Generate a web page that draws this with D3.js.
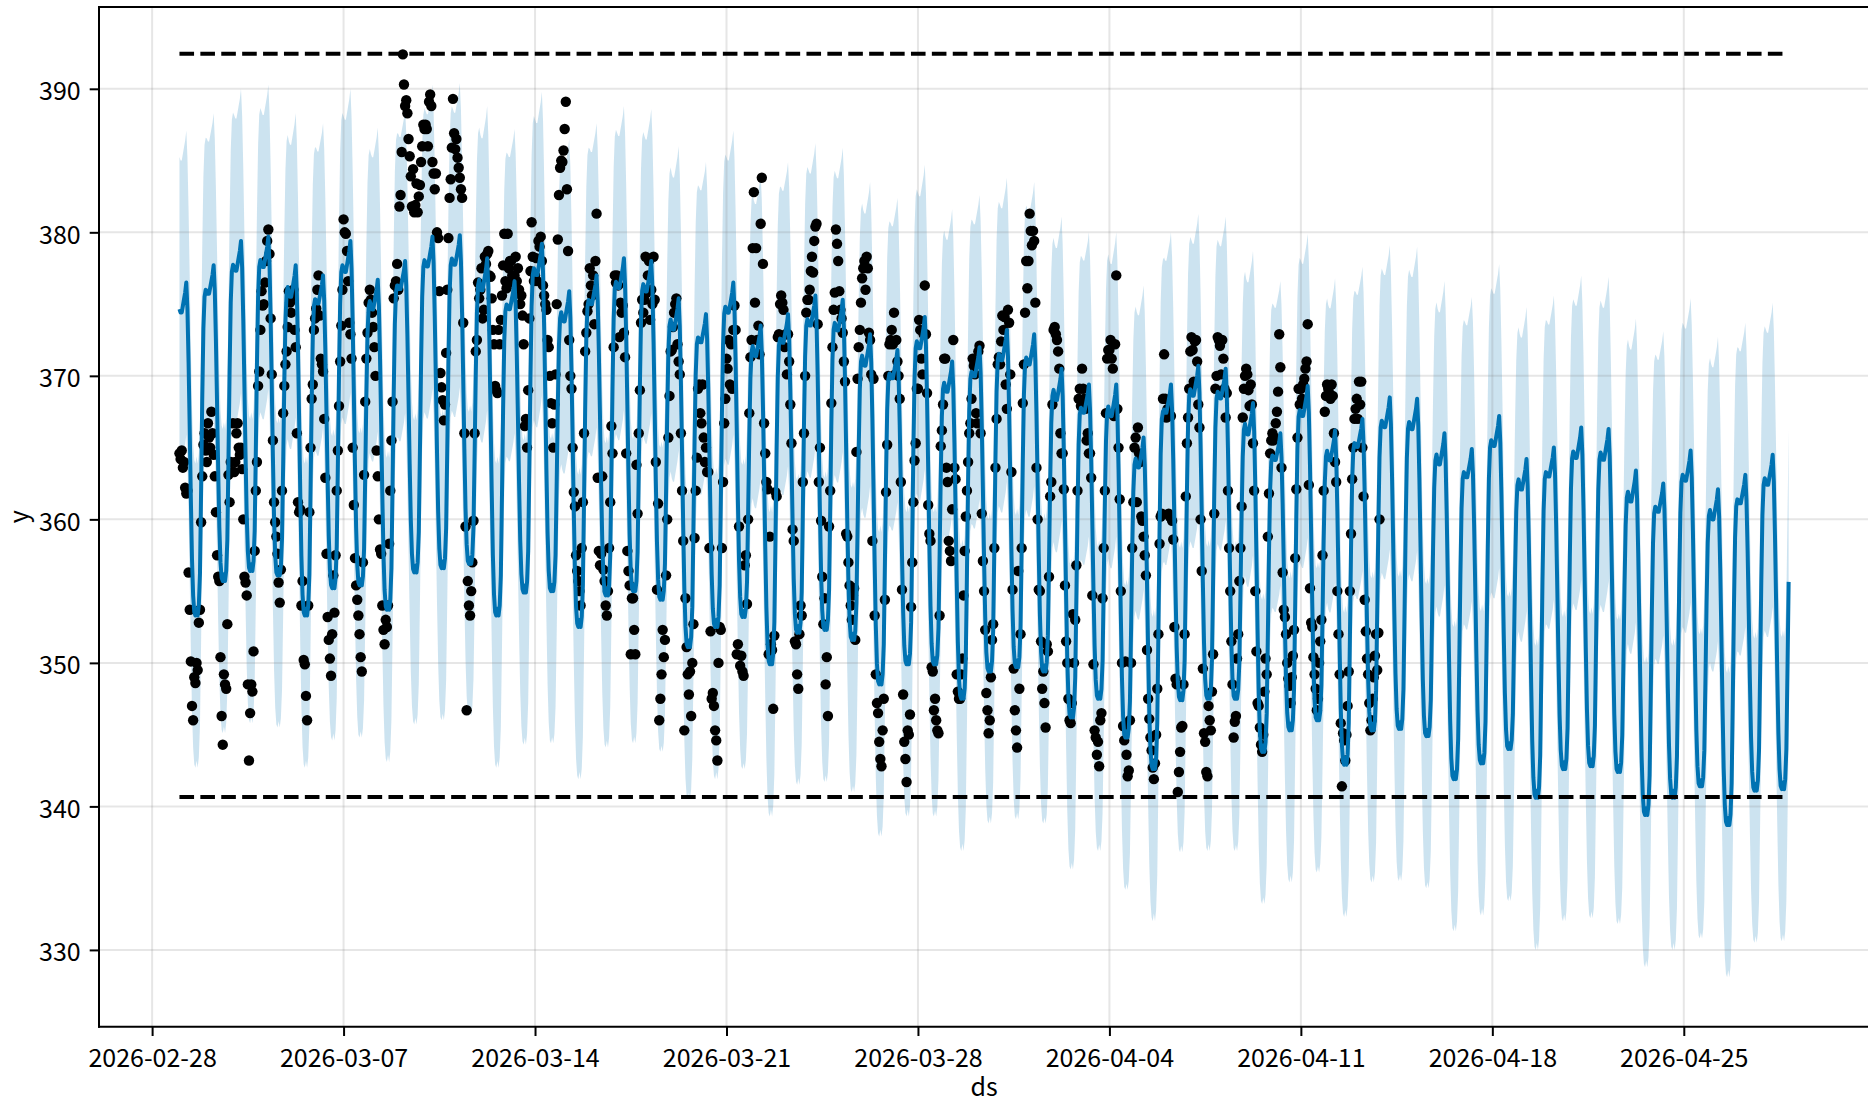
<!DOCTYPE html>
<html><head><meta charset="utf-8">
<script src="https://cdn.jsdelivr.net/npm/d3@7"></script>
<style>
body{margin:0;background:#fff;}
svg{display:block;}
text{font-family:"Noto Sans CJK JP","Noto Sans",sans-serif;fill:#000;}
</style>
</head><body><script>
// ---------- data ----------
const startISO = "2026-03-01T00:00:00Z";   // first hourly row
const forecastHours = 1413;                 // hourly rows in the forecast frame
// daily shape of yhat, 0 = daily trough, 1 = daily peak (hours 0..23)
const hourProfile = [0.92,0.91,0.91,0.93,0.95,0.97,1.00,0.92,0.76,0.56,0.35,0.17,0.06,0.01,0.00,0.02,0.00,0.03,0.12,0.36,0.62,0.82,0.91,0.93];
// daily peak of yhat (about 06:00) for each day from 2026-03-01
const dailyPeak = [376.5,377.7,379.4,379.7,377.7,377.0,379.4,376.7,378.0,379.7,379.8,378.2,376.6,379.2,375.9,377.0,378.2,378.0,375.4,374.3,376.5,373.5,374.3,375.6,375.3,372.9,371.8,374.1,371.0,372.0,373.2,372.9,370.5,369.4,369.4,365.7,369.4,370.7,370.5,368.1,366.0,369.3,366.2,367.0,368.5,368.4,366.0,364.9,367.2,364.2,365.0,366.4,366.3,363.4,362.5,364.8,362.1,363.1,364.5];
// daily trough of yhat (about 14:00) for each day
const dailyTrough = [353.3,355.7,356.4,356.1,353.3,355.2,355.4,353.7,356.3,356.6,356.9,353.3,354.9,355.0,352.5,354.7,355.0,354.4,351.1,352.5,353.2,349.9,352.1,352.3,351.6,348.5,349.9,349.9,347.5,349.4,349.7,349.4,346.2,347.5,344.8,342.6,347.4,347.5,347.5,343.8,345.3,346.0,342.9,345.3,345.4,344.9,341.9,343.0,344.0,340.6,342.6,342.8,342.4,339.4,340.6,341.4,338.7,341.1,341.2];
const intervalHalfWidth = 10.6;             // yhat_upper - yhat  (= yhat - yhat_lower)
const capValue = 392.44;
const floorValue = 340.66;
// observed hourly values, one list per day from 2026-03-01
const observed = [
[364.6,364.2,364.8,363.6,364.0,362.2,361.8,362.0,356.3,353.7,350.1,347.0,346.0,349.0,348.6,350.0,349.5,352.8,353.7,359.8,363.0,365.2,366.0,364.8],
[364.0,366.7,365.7,365.0,367.5,366.0,364.5,363.0,360.5,357.5,356.0,355.7,350.4,346.3,344.3,349.2,348.5,348.2,352.7,363.1,361.2,364.0,363.3,366.7],
[363.3,364.0,366.0,366.7,365.0,364.5,365.0,363.5,360.0,356.0,355.6,354.7,348.5,343.2,346.5,348.5,348.0,350.8,357.8,362.0,364.0,369.3,370.3,373.2],
[375.9,374.9,375.0,376.5,378.0,379.4,380.2,378.5,374.0,370.1,365.5,361.2,359.8,358.8,357.6,355.6,354.2,356.5,362.0,367.4,369.3,370.8,371.7,373.4],
[375.9,375.1,374.4,375.5,376.0,373.2,372.0,366.0,361.2,360.5,360.7,354.0,355.7,350.2,349.9,347.7,346.0,354.0,360.5,365.0,368.4,369.4,373.2,374.0],
[374.7,376.0,377.0,374.2,371.2,370.8,370.3,367.0,362.9,357.6,353.2,351.6,350.3,349.1,352.0,356.1,353.5,357.5,362.0,364.8,367.9,371.0,373.5,376.0],
[380.9,380.0,379.9,378.7,376.6,373.7,372.9,371.2,365.0,361.0,357.3,355.4,354.4,353.3,352.0,350.4,349.4,357.0,363.1,368.2,371.2,373.0,375.1,376.0],
[375.3,374.4,373.4,372.0,370.0,364.8,363.0,360.0,357.9,357.6,354.0,352.3,351.3,353.0,352.5,354.0,358.3,362.0,365.5,368.2,375.4,376.3,376.6,377.8],
[376.0,381.8,382.6,385.6,392.4,390.3,388.8,389.2,388.3,386.5,385.3,383.9,381.8,384.4,381.4,381.9,383.4,381.4,382.5,383.3,384.9,386.0,387.5,387.2],
[387.5,387.2,386.0,389.1,389.6,388.8,384.9,384.1,383.0,384.1,380.0,379.6,375.9,370.2,369.2,368.3,366.9,368.0,371.6,376.0,379.6,382.4,383.7,385.9],
[389.3,386.9,385.8,386.5,385.2,384.5,383.8,383.0,382.4,373.7,366.0,359.5,346.7,355.7,354.0,353.3,355.0,357.0,359.9,366.0,371.7,372.5,376.5,375.4],
[376.0,377.5,374.0,374.6,378.3,377.8,378.5,378.7,377.0,376.9,375.4,373.2,372.2,369.3,369.0,368.8,373.2,372.2,373.9,375.6,377.7,379.9,376.6,376.1],
[379.9,377.5,378.0,378.0,377.0,376.5,377.0,378.3,376.6,377.5,376.0,375.0,375.6,374.2,372.2,366.5,367.0,365.0,369.0,374.0,377.3,380.7,378.3,376.6],
[377.0,378.2,376.6,379.4,379.0,379.7,378.0,376.3,375.6,375.0,374.6,372.5,372.0,370.0,368.1,366.7,365.0,368.0,370.1,375.0,379.5,382.6,384.5,385.0],
[384.9,385.7,387.2,389.1,383.0,378.7,372.5,370.0,369.1,365.0,361.9,360.9,357.5,356.4,355.7,355.0,354.0,358.0,361.2,366.0,371.7,373.0,374.5,375.0],
[377.5,376.3,375.6,377.0,373.6,378.0,381.3,362.9,357.8,356.8,357.6,363.0,356.5,355.7,354.0,353.3,355.0,358.0,361.2,366.5,364.6,372.0,377.0,376.5],
[377.0,376.3,372.7,375.1,374.4,374.9,373.0,371.3,364.6,357.8,356.4,355.4,350.6,354.5,354.5,352.3,350.6,363.8,360.4,366.0,369.0,373.7,375.3,374.4],
[375.3,378.3,375.8,377.0,378.0,373.9,376.0,375.0,378.3,375.3,364.0,355.1,361.1,346.0,347.5,349.2,352.3,350.4,351.6,356.1,360.0,365.7,368.6,371.7],
[371.8,373.4,374.4,375.0,375.4,372.2,371.0,370.1,366.0,362.0,358.5,345.3,354.5,351.1,349.2,347.8,349.4,346.3,350.0,352.7,358.7,362.0,364.3,369.1],
[369.4,367.4,366.7,369.4,365.7,364.0,365.0,363.3,363.3,358.0,352.2,347.5,347.9,347.0,345.3,344.6,343.2,350.0,352.5,352.3,358.0,362.6,366.7,368.4],
[371.2,370.5,372.5,369.4,372.2,369.1,373.2,374.9,373.2,350.6,351.3,359.5,349.8,350.5,349.4,349.1,356.8,357.5,354.1,360.0,367.4,371.3,372.5,378.9],
[382.8,375.1,378.9,372.5,373.5,371.5,380.6,383.8,377.8,366.7,364.6,362.6,362.1,350.6,358.8,351.3,350.9,346.8,351.9,361.9,361.6,372.7,372.9,375.0],
[375.6,375.1,374.6,372.0,372.9,370.1,372.9,371.0,368.0,365.3,359.3,358.5,351.5,351.3,349.2,348.2,352.0,354.0,353.3,362.6,366.0,370.0,374.4,375.3],
[375.3,376.0,377.3,378.3,377.2,379.4,380.4,380.6,373.6,362.6,365.0,359.9,356.0,352.7,354.5,348.5,350.4,346.3,359.5,362.0,368.1,372.0,374.6,375.8],
[380.2,379.2,378.0,375.9,374.6,374.0,373.0,371.0,369.6,359.0,358.8,357.0,355.4,354.0,353.0,354.7,355.2,351.6,364.7,369.8,372.0,373.2,375.1,376.8],
[377.5,378.0,376.0,378.3,377.5,373.0,372.5,370.1,358.5,369.8,353.3,349.2,347.2,346.5,344.5,343.3,342.8,345.3,347.5,354.4,361.9,365.2,370.0,372.2],
[372.5,373.2,372.2,374.4,370.1,372.5,371.0,370.0,368.4,362.6,355.1,347.8,344.5,343.3,341.7,345.3,345.0,346.4,353.9,357.0,361.2,364.1,365.3,369.1],
[369.1,373.9,373.2,371.2,370.1,372.9,376.3,372.9,368.8,361.0,359.0,358.5,349.7,349.4,346.7,347.5,346.0,345.3,345.1,353.3,365.1,366.2,368.0,371.2],
[371.2,363.6,362.6,358.5,357.8,357.1,360.7,372.5,363.6,362.8,349.2,348.0,347.5,347.5,349.2,350.3,354.7,357.8,360.2,362.0,364.0,366.0,366.7,368.4],
[371.2,370.7,370.1,367.4,366.7,371.7,372.1,366.0,360.4,357.1,355.0,352.3,347.9,346.7,345.1,346.0,349.0,351.6,352.7,358.0,363.6,367.0,370.8,371.3],
[370.8,372.4,374.2,373.2,374.1,369.4,367.7,374.6,373.7,370.1,363.3,355.1,349.6,346.7,345.3,344.1,356.4,348.2,352.0,358.0,368.1,370.8,374.4,378.0],
[376.1,378.0,381.3,380.1,379.1,380.1,379.4,375.1,363.6,360.0,355.1,355.0,351.5,348.2,349.4,347.2,345.5,351.3,350.8,356.0,361.6,362.6,368.0,373.2],
[373.4,372.9,372.5,371.7,370.5,366.0,364.6,364.6,362.1,355.4,351.5,350.0,347.5,346.0,345.8,347.2,353.4,350.0,353.0,356.8,362.0,368.4,369.1,367.9],
[370.5,369.1,368.4,367.7,365.5,366.0,364.6,364.6,362.9,354.7,349.9,345.3,344.8,343.6,344.5,342.8,346.0,346.5,354.5,358.0,362.0,367.4,371.2,371.8],
[371.8,372.5,371.2,370.5,367.2,372.2,377.0,367.7,365.0,361.4,355.0,350.0,345.6,344.6,350.1,343.6,342.1,342.5,346.0,350.0,358.0,361.2,365.0,365.7],
[361.2,366.4,364.6,364.0,360.2,359.9,358.8,357.5,356.1,350.9,347.5,346.1,344.8,343.9,342.7,341.9,343.0,345.0,348.2,352.0,358.3,360.2,360.4,368.4],
[371.5,368.4,367.1,367.7,360.4,360.2,367.2,359.9,358.6,352.5,348.9,348.5,341.0,342.4,343.8,345.5,345.6,348.5,352.0,361.6,365.3,367.1,369.1,371.7],
[372.7,371.8,369.6,372.4,372.5,371.0,368.0,366.4,360.0,356.4,349.6,345.1,344.5,342.4,342.1,347.0,346.0,345.3,348.0,350.6,360.4,369.1,370.0,372.7],
[372.5,372.1,370.1,372.5,371.2,369.1,367.1,368.8,362.0,358.0,355.0,351.5,348.5,344.8,345.9,346.3,350.3,352.0,355.7,358.0,360.9,367.1,369.1,370.0],
[370.5,370.1,369.0,367.9,369.4,368.0,365.3,362.0,355.0,350.8,347.2,347.0,345.5,344.3,343.8,345.0,348.0,350.3,349.2,358.8,361.8,364.6,365.5,366.0],
[365.5,365.7,366.7,367.5,368.9,372.9,370.6,363.6,356.3,353.7,353.2,352.0,350.0,348.9,348.4,347.2,349.0,350.5,352.3,357.3,362.1,365.7,369.1,368.0],
[369.1,368.4,369.4,369.8,370.5,371.0,373.6,362.4,355.2,352.8,352.5,350.4,349.2,348.2,346.7,347.5,350.0,351.5,353.0,357.5,362.0,367.5,368.6,369.4],
[369.1,368.8,368.4,369.4,368.6,366.0,364.0,362.6,355.0,352.0,349.2,345.8,341.4,345.1,344.6,343.2,345.0,347.0,349.4,355.0,359.0,362.8,365.0,367.0],
[367.7,368.4,367.0,369.6,368.0,369.6,365.0,361.6,354.4,352.2,350.3,349.2,347.2,345.3,346.0,347.5,349.0,350.5,352.0,349.5,352.1,360.0]
];
const yTickValues = [330,340,350,360,370,380,390];
const xTickLabels = ["2026-02-28","2026-03-07","2026-03-14","2026-03-21","2026-03-28","2026-04-04","2026-04-11","2026-04-18","2026-04-25"];
const yLimits = [324.65, 395.7];
const xLabel = "ds", yLabel = "y";

// ---------- layout ----------
const W = 1868, H = 1102;
const L = 99, R = 1869.1, T = 7, B = 1026.7;
const hourMs = 3600e3;
const t0 = Date.parse(startISO);
const tEnd = t0 + (forecastHours - 1) * hourMs;
const pad = 0.05 * (tEnd - t0);

const x = d3.scaleUtc().domain([new Date(t0 - pad), new Date(tEnd + pad)]).range([L, R]);
const y = d3.scaleLinear().domain(yLimits).range([B, T]);

const fcst = d3.range(forecastHours).map(i => {
  const d = Math.floor(i / 24), h = i % 24;
  const lo = dailyTrough[d];
  const hi = h <= 12 ? dailyPeak[d] : dailyPeak[Math.min(d + 1, dailyPeak.length - 1)];
  const yhat = lo + hourProfile[h] * (hi - lo);
  return {ds: new Date(t0 + i * hourMs), yhat, lower: yhat - intervalHalfWidth, upper: yhat + intervalHalfWidth};
});
const hist = observed.flatMap((day, d) => day.map((v, h) => ({ds: new Date(t0 + (d * 24 + h) * hourMs), y: v})));

const svg = d3.select("body").append("svg").attr("width", W).attr("height", H);
svg.append("defs").append("clipPath").attr("id", "clip")
  .append("rect").attr("x", L).attr("y", T).attr("width", R - L).attr("height", B - T);
const plot = svg.append("g").attr("clip-path", "url(#clip)");

// uncertainty band
plot.append("path").datum(fcst)
  .attr("d", d3.area().x(d => x(d.ds)).y0(d => y(d.lower)).y1(d => y(d.upper)))
  .attr("fill", "#0072B2").attr("fill-opacity", 0.2);

// grid
const xTicks = xTickLabels.map(s => new Date(s + "T00:00:00Z"));
const grid = plot.append("g").attr("stroke", "#808080").attr("stroke-opacity", 0.2).attr("stroke-width", 2);
grid.selectAll("line.v").data(xTicks).join("line")
  .attr("x1", d => x(d)).attr("x2", d => x(d)).attr("y1", T).attr("y2", B);
grid.selectAll("line.h").data(yTickValues).join("line")
  .attr("y1", d => y(d)).attr("y2", d => y(d)).attr("x1", L).attr("x2", R);

// observed points
plot.append("g").selectAll("circle").data(hist).join("circle")
  .attr("cx", d => x(d.ds)).attr("cy", d => y(d.y)).attr("r", 5.2).attr("fill", "#000");

// forecast line
plot.append("path").datum(fcst)
  .attr("d", d3.line().x(d => x(d.ds)).y(d => y(d.yhat)))
  .attr("fill", "none").attr("stroke", "#0072B2").attr("stroke-width", 4).attr("stroke-linejoin", "round");

// cap / floor
[capValue, floorValue].forEach(v => {
  plot.append("path").datum(fcst)
    .attr("d", d3.line().x(d => x(d.ds)).y(() => y(v)))
    .attr("fill", "none").attr("stroke", "#000").attr("stroke-width", 3.9)
    .attr("stroke-dasharray", "14.6,6.3");
});

// axes
const fs = 25;
const xAxis = d3.axisBottom(x).tickValues(xTicks).tickFormat(d3.utcFormat("%Y-%m-%d")).tickSize(9.3).tickPadding(9);
const gx = svg.append("g").attr("transform", `translate(0,${B})`).call(xAxis);
const yAxis = d3.axisLeft(y).tickValues(yTickValues).tickFormat(d3.format("d")).tickSize(9.3).tickPadding(9);
const gy = svg.append("g").attr("transform", `translate(${L},0)`).call(yAxis);
[gx, gy].forEach(g => {
  g.select(".domain").remove();
  g.selectAll(".tick line").attr("stroke", "#000").attr("stroke-width", 2);
  g.selectAll(".tick text").attr("font-size", fs).attr("font-family", '"Noto Sans CJK JP","Noto Sans",sans-serif').attr("fill", "#000");
});
gx.selectAll(".tick text").attr("dy", null).attr("y", 9.3 + 8).attr("dominant-baseline", "hanging");
gy.selectAll(".tick text").attr("dy", null).attr("dominant-baseline", "central");

// spines
const sp = svg.append("g").attr("stroke", "#000").attr("stroke-width", 2).attr("stroke-linecap", "square");
sp.append("line").attr("x1", L).attr("x2", L).attr("y1", T).attr("y2", B);
sp.append("line").attr("x1", L).attr("x2", R).attr("y1", B).attr("y2", B);
sp.append("line").attr("x1", L).attr("x2", R).attr("y1", T).attr("y2", T);
sp.append("line").attr("x1", R).attr("x2", R).attr("y1", T).attr("y2", B);

// axis labels
svg.append("text").attr("x", (L + R) / 2).attr("y", 1096).attr("text-anchor", "middle")
  .attr("font-size", fs).text(xLabel);
svg.append("text").attr("transform", `translate(28,${(T + B) / 2}) rotate(-90)`).attr("text-anchor", "middle")
  .attr("font-size", fs).text(yLabel);
</script></body></html>
